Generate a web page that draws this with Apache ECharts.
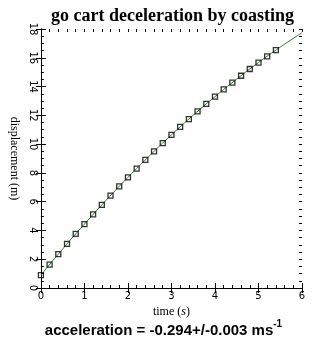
<!DOCTYPE html>
<html>
<head>
<meta charset="utf-8">
<style>
  html, body { margin: 0; padding: 0; background: #fff; }
  #chart { width: 327px; height: 344px; }
</style>
<script src="https://cdn.jsdelivr.net/npm/echarts@6/dist/echarts.min.js"></script>
</head>
<body>
<div id="chart"></div>
<script>
// Measured go cart position while coasting, sampled every 0.2 s
const times = [0, 0.2, 0.4, 0.6, 0.8, 1.0, 1.2, 1.4, 1.6, 1.8, 2.0, 2.2, 2.4, 2.6,
               2.8, 3.0, 3.2, 3.4, 3.6, 3.8, 4.0, 4.2, 4.4, 4.6, 4.8, 5.0, 5.2, 5.4];
const displacement = [0.90, 1.63, 2.35, 3.06, 3.76, 4.44, 5.11, 5.78, 6.42, 7.06,
                      7.69, 8.30, 8.90, 9.50, 10.07, 10.64, 11.20, 11.74, 12.27, 12.79,
                      13.30, 13.80, 14.28, 14.75, 15.22, 15.67, 16.10, 16.53];
// Fitted curve (constant deceleration), drawn on to the end of the axis
const fitTimes = [0, 0.5, 1.0, 1.5, 2.0, 2.5, 3.0, 3.5, 4.0, 4.5, 5.0, 5.5, 6.0];
const fitDisplacement = [0.90, 2.71, 4.44, 6.10, 7.69, 9.20, 10.64, 12.01, 13.30,
                         14.52, 15.67, 16.74, 17.74];
const xTicks = [0, 1, 2, 3, 4, 5, 6];
const yTicks = [0, 2, 4, 6, 8, 10, 12, 14, 16, 18];

const chart = echarts.init(document.getElementById('chart'), null, { renderer: 'canvas' });

const X_MIN = xTicks[0], X_MAX = xTicks[xTicks.length - 1];
const Y_MIN = yTicks[0], Y_MAX = yTicks[yTicks.length - 1];

// One frame side: major ticks (optionally labelled) plus a second, unlabelled
// axis on the same line carrying the short minor ticks, all pointing inward.
function sideAxes(kind, position, extra) {
  const range = kind === 'x' ? { min: X_MIN, max: X_MAX } : { min: Y_MIN, max: Y_MAX };
  const major = Object.assign({
    type: 'value',
    position: position,
    offset: 0,
    interval: kind === 'x' ? 1 : 2,
    axisLine: { show: true, lineStyle: { color: '#000', width: 1 } },
    axisTick: { show: true, inside: true, length: 5, lineStyle: { color: '#000', width: 1 } },
    axisLabel: { show: false },
    splitLine: { show: false }
  }, range, extra || {});
  const minor = Object.assign({
    type: 'value',
    position: position,
    offset: 0,
    interval: kind === 'x' ? 0.2 : 0.5,
    axisLine: { show: false, onZero: false },
    axisTick: { show: true, inside: true, length: 3, lineStyle: { color: '#000', width: 1 } },
    axisLabel: { show: false },
    splitLine: { show: false }
  }, range);
  return [major, minor];
}

const xAxes = [].concat(
  sideAxes('x', 'bottom', {
    name: '{n|time (}{i|s}{n|)}',
    nameLocation: 'middle',
    nameGap: 13,
    nameTextStyle: {
      rich: {
        n: { fontFamily: 'Liberation Serif, Times New Roman, serif', fontSize: 12, color: '#000' },
        i: { fontFamily: 'Liberation Serif, Times New Roman, serif', fontSize: 12, fontStyle: 'italic', color: '#000' }
      }
    },
    axisLabel: {
      show: true,
      margin: 3,
      fontFamily: 'DejaVu Sans, sans-serif',
      fontSize: 10,
      color: '#000'
    }
  }),
  sideAxes('x', 'top')
);

const yAxes = [].concat(
  sideAxes('y', 'left', {
    name: 'displacement (m)',
    nameLocation: 'middle',
    nameRotate: -90,
    nameGap: 11,
    nameTextStyle: {
      fontFamily: 'Liberation Serif, Times New Roman, serif',
      fontSize: 12,
      color: '#000'
    },
    axisLabel: {
      show: true,
      rotate: -90,
      margin: 3,
      fontFamily: 'DejaVu Sans, sans-serif',
      fontSize: 10,
      color: '#000'
    }
  }),
  sideAxes('y', 'right')
);

chart.setOption({
  backgroundColor: '#fff',
  animation: false,
  title: {
    text: 'go cart deceleration by coasting',
    left: 46,
    top: 2,
    textStyle: {
      fontFamily: 'Liberation Serif, Times New Roman, serif',
      fontWeight: 'bold',
      fontSize: 18,
      color: '#000'
    }
  },
  grid: { left: 38, right: 25, top: 29, bottom: 56 },
  xAxis: xAxes,
  yAxis: yAxes,
  series: [{
    name: 'fit',
    type: 'line',
    smooth: true,
    showSymbol: false,
    symbol: 'none',
    data: fitTimes.map((t, i) => [t, fitDisplacement[i]]),
    lineStyle: { color: '#2f7a2f', width: 1 },
    z: 2
  }, {
    name: 'measured',
    type: 'scatter',
    symbol: 'rect',
    symbolSize: 5,
    clip: false,
    data: times.map((t, i) => [t, displacement[i]]),
    itemStyle: { color: 'rgba(0,0,0,0)', borderColor: '#000', borderWidth: 1.3 },
    z: 3
  }],
  graphic: [{
    type: 'text',
    left: 'center',
    top: 319,
    style: {
      text: '{m|acceleration = -0.294+/-0.003 ms}{s|-1}',
      rich: {
        m: {
          fontFamily: 'Liberation Sans, Arial, sans-serif',
          fontWeight: 'bold',
          fontSize: 15,
          fill: '#000',
          verticalAlign: 'bottom',
          lineHeight: 19
        },
        s: {
          fontFamily: 'Liberation Sans, Arial, sans-serif',
          fontWeight: 'bold',
          fontSize: 10,
          fill: '#000',
          verticalAlign: 'top',
          padding: [0, 0, 9, 0]
        }
      }
    }
  }]
});
</script>
</body>
</html>
